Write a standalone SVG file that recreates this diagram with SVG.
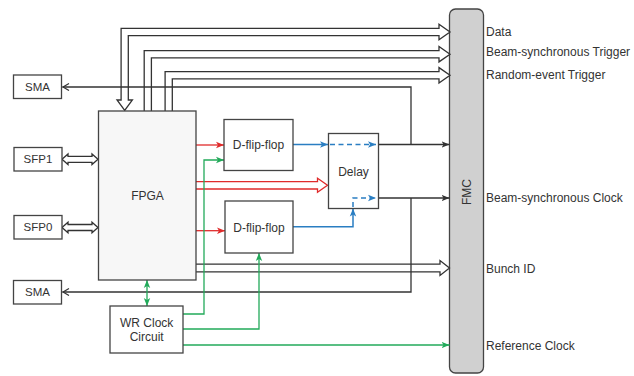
<svg xmlns="http://www.w3.org/2000/svg" width="634" height="376" viewBox="0 0 634 376">
<style>
.box{fill:#fff;stroke:#444;stroke-width:1.3}
.t{font-family:"Liberation Sans",Arial,sans-serif;font-size:12px;fill:#333;text-anchor:middle}
.s{font-size:11.5px}
.lbl{font-family:"Liberation Sans",Arial,sans-serif;font-size:12px;fill:#333}
.wide{fill:#fff;stroke:#333;stroke-width:1.3;stroke-linejoin:miter}
.bk{fill:none;stroke:#333;stroke-width:1.3}
.rd{fill:none;stroke:#e02b2b;stroke-width:1.3}
.gr{fill:none;stroke:#22aa5a;stroke-width:1.3}
.bl{fill:none;stroke:#2a7ec2;stroke-width:1.5}
.dash{stroke-dasharray:5,3.5}
</style>
<defs>
<marker id="ak" markerWidth="10" markerHeight="8" refX="8" refY="4" orient="auto" markerUnits="userSpaceOnUse"><path d="M0,0.8 L8,4 L0,7.2 L2,4 z" fill="#333"/></marker>
<marker id="ao" markerWidth="10" markerHeight="10" refX="8" refY="4" orient="auto" markerUnits="userSpaceOnUse"><path d="M1.5,0.5 L7.5,4 L1.5,7.5" fill="none" stroke="#333" stroke-width="1.2"/></marker>
<marker id="ar" markerWidth="10" markerHeight="8" refX="8" refY="4" orient="auto" markerUnits="userSpaceOnUse"><path d="M0,0.8 L8,4 L0,7.2 L2,4 z" fill="#e02b2b"/></marker>
<marker id="ag" markerWidth="10" markerHeight="8" refX="8" refY="4" orient="auto-start-reverse" markerUnits="userSpaceOnUse"><path d="M0,0.8 L8,4 L0,7.2 L2,4 z" fill="#22aa5a"/></marker>
<marker id="ab" markerWidth="10" markerHeight="8" refX="8" refY="4" orient="auto" markerUnits="userSpaceOnUse"><path d="M0,0.8 L8,4 L0,7.2 L2,4 z" fill="#2a7ec2"/></marker>
</defs>

<g id="fmc">
<rect x="449.5" y="9" width="34" height="364" rx="6" fill="#d0d0d0" stroke="#444" stroke-width="1.3"/>
<text class="t" transform="translate(470.5,192) rotate(-90)">FMC</text>
</g>

<g id="connectors">
<path class="wide" d="M121.1,100 V28.4 H439 V24.3 L450,32 L439,39.7 V35.6 H128.3 V100 H132.4 L124.7,110.5 L117,100 Z"/>
<path class="wide" d="M144.2,111 V50.6 H439 V46.5 L450,54.2 L439,61.9 V57.8 H151.4 V111"/>
<path class="wide" d="M165.1,111 V71.7 H439 V67.6 L450,75.3 L439,83 V78.9 H172.3 V111"/>
<path class="wide" d="M62,159.3 L68,154 V156.3 H92 V154 L98,159.3 L92,164.6 V162.3 H68 V164.6 Z"/>
<path class="wide" d="M62,227.5 L68,222.2 V224.5 H92 V222.2 L98,227.5 L92,232.8 V230.5 H68 V232.8 Z"/>
<path class="wide" d="M196,264.2 H440 V260.5 L449.5,268 L440,275.5 V271.8 H196"/>
<path class="wide" d="M196,181.6 H317.5 V178.3 L327.5,185.3 L317.5,192.3 V189 H196" style="stroke:#e02b2b"/>
<path class="bk" d="M411,144.5 V87 H62.5" marker-end="url(#ao)"/>
<path class="bk" d="M411,198 V292 H62.5" marker-end="url(#ao)"/>
<path class="bk" d="M378,144.5 H449.5" marker-end="url(#ak)"/>
<path class="bk" d="M378,198 H449.5" marker-end="url(#ak)"/>
<path class="rd" d="M196,145 H224" marker-end="url(#ar)"/>
<path class="rd" d="M196,230.7 H225" marker-end="url(#ar)"/>
<path class="gr" d="M183,314 H204 V160 H224" marker-end="url(#ag)"/>
<path class="gr" d="M183,329 H259 V253" marker-end="url(#ag)"/>
<path class="gr" d="M183,345 H449.5" marker-end="url(#ag)"/>
<path class="gr" d="M147,280 V306" marker-start="url(#ag)" marker-end="url(#ag)"/>
<path class="bl" d="M293,144.5 H328" marker-end="url(#ab)"/>
<path class="bl dash" d="M330,144.5 H376" marker-end="url(#ab)"/>
<path class="bl" d="M293,226.7 H353 V208.5" marker-end="url(#ab)"/>
<path class="bl dash" d="M353,207 V198 H376" marker-end="url(#ab)"/>
</g>

<g id="sma_top"><rect class="box" x="13.5" y="75" width="48" height="23.5"/><text class="t s" x="37.5" y="90.8">SMA</text></g>
<g id="sfp1"><rect class="box" x="14" y="147.5" width="48" height="23.5"/><text class="t s" x="38" y="163.3">SFP1</text></g>
<g id="sfp0"><rect class="box" x="14" y="215.5" width="48" height="23.5"/><text class="t s" x="38" y="231.3">SFP0</text></g>
<g id="sma_bottom"><rect class="box" x="13.5" y="280.5" width="48" height="23.5"/><text class="t s" x="37.5" y="296.3">SMA</text></g>
<g id="fpga"><rect class="box" x="98.5" y="111" width="97.5" height="169" style="fill:#f7f7f7"/><text class="t" x="147.5" y="200.3">FPGA</text></g>
<g id="dff_top"><rect class="box" x="224" y="119.5" width="69" height="51"/><text class="t" x="258.5" y="149.3">D-flip-flop</text></g>
<g id="dff_bottom"><rect class="box" x="225" y="201" width="68" height="52"/><text class="t" x="259" y="231.5">D-flip-flop</text></g>
<g id="delay"><rect class="box" x="328.5" y="133.5" width="50" height="75" style="fill:none"/><text class="t" x="353.5" y="176">Delay</text></g>
<g id="wr_clock"><rect class="box" x="110" y="306" width="73" height="47"/><text class="t" x="146.7" y="327">WR Clock</text><text class="t" x="146.7" y="341">Circuit</text></g>

<g id="labels">
<text class="lbl" x="486" y="35.5">Data</text>
<text class="lbl" x="486" y="56">Beam-synchronous Trigger</text>
<text class="lbl" x="486" y="79.3">Random-event Trigger</text>
<text class="lbl" x="486" y="201.5">Beam-synchronous Clock</text>
<text class="lbl" x="486" y="273.3">Bunch ID</text>
<text class="lbl" x="486" y="350">Reference Clock</text>
</g>
</svg>
